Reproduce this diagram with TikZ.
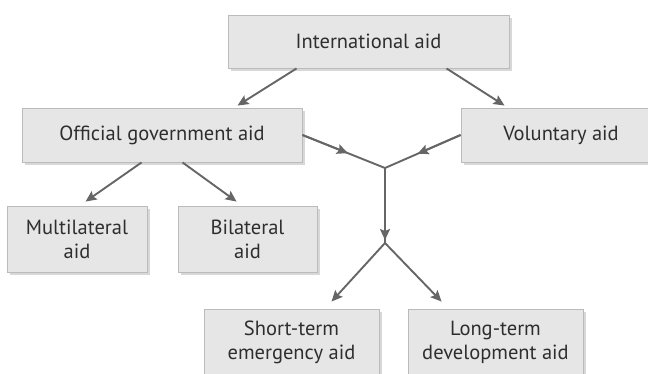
\documentclass[tikz,border=0pt]{standalone}
\usepackage{fontspec}
\setmainfont{PT Sans}
\usetikzlibrary{arrows.meta,shadows,calc}
\definecolor{boxfill}{HTML}{E6E6E6}
\definecolor{boxline}{HTML}{BBBBBB}
\definecolor{arrowc}{HTML}{666666}
\definecolor{textc}{HTML}{2E2E2E}
\begin{document}
\begin{tikzpicture}[x=1pt,y=-1pt,
  box/.style={rectangle, draw=boxline, line width=0.9pt, fill=boxfill, text=textc,
    align=center, inner sep=0pt, font=\fontsize{20.5}{24}\selectfont,
    drop shadow={shadow xshift=2.5pt, shadow yshift=-3pt, fill=black!22, opacity=0.7}},
  conn/.style={draw=arrowc, line width=1.9pt},
  arr/.style={conn, -{Stealth[length=11pt,width=10pt,inset=2pt]}}]
\useasboundingbox (0,0) rectangle (648,373);
\node[box, minimum width=281pt, minimum height=53pt] (intl) at (368.5,41.5) {International aid};
\node[box, minimum width=280pt, minimum height=54pt] (official) at (162,135) {Official government aid};
\node[box, minimum width=200pt, minimum height=54pt] (voluntary) at (561,135) {Voluntary aid};
\node[box, minimum width=140pt, minimum height=66pt] (multi) at (77,239) {Multilateral\\aid};
\node[box, minimum width=139pt, minimum height=66pt] (bi) at (247.5,239) {Bilateral\\aid};
\node[box, minimum width=175pt, minimum height=66pt] (short) at (291.5,342) {Short-term\\emergency aid};
\node[box, minimum width=175pt, minimum height=66pt] (long) at (495.5,342) {Long-term\\development aid};
\coordinate (j) at (385,168);
\coordinate (split) at (385,243);
% International -> two branches
\draw[arr] ([xshift=69pt]intl.south west) -- ([xshift=216pt,yshift=2pt]official.north west);
\draw[arr] ([xshift=219pt]intl.south west) -- ([xshift=44pt,yshift=2pt]voluntary.north west);
% Official -> multilateral / bilateral
\draw[arr] ([xshift=120pt]official.south west) -- ([xshift=79pt,yshift=4pt]multi.north west);
\draw[arr] ([xshift=161pt]official.south west) -- ([xshift=59pt,yshift=4pt]bi.north west);
% Merge into junction
\draw[conn] (official.east) -- (j);
\draw[arr] (official.east) -- ($(official.east)!0.55!(j)$);
\draw[conn] (voluntary.west) -- (j);
\draw[arr] (voluntary.west) -- ($(voluntary.west)!0.57!(j)$);
% Down to split
\draw[conn] (j) -- (split);
\draw[arr] (j) -- ([yshift=3pt]split);
% Split to short / long
\draw[arr] (split) -- ([xshift=128pt,yshift=7pt]short.north west);
\draw[arr] (split) -- ([xshift=34pt,yshift=7pt]long.north west);
\end{tikzpicture}
\end{document}
